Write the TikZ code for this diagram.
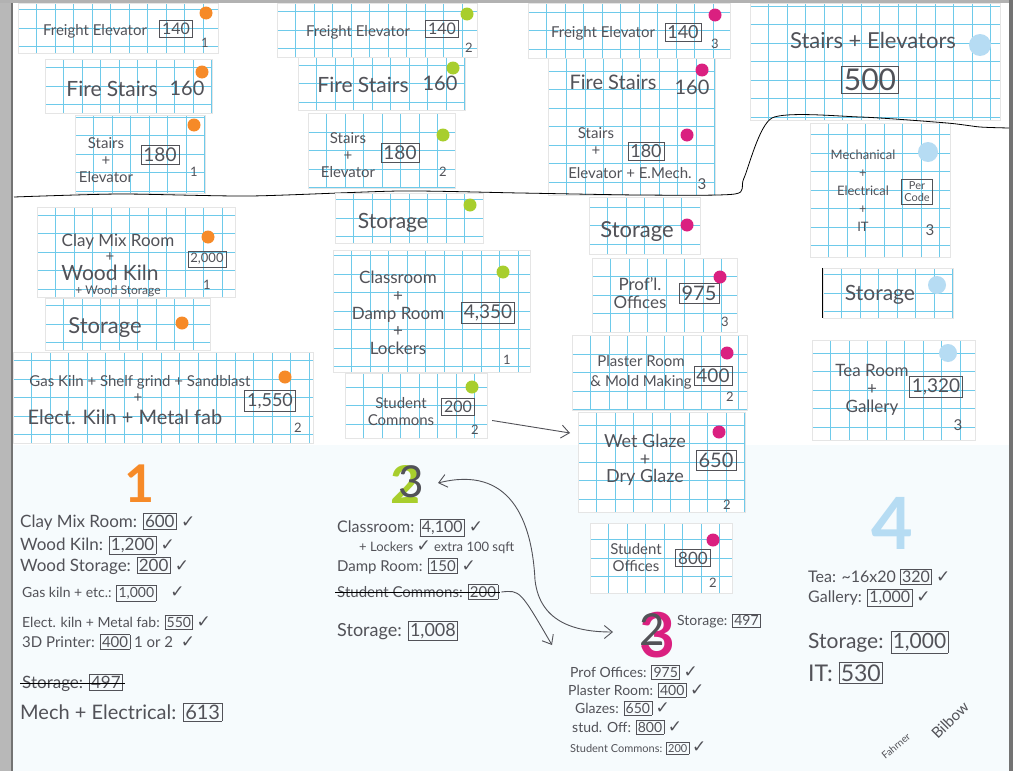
\documentclass[tikz,border=0pt]{standalone}
\usepackage{fontspec}
\setmainfont{Lato}
\newfontfamily\symfont{DejaVu Sans}
\usetikzlibrary{arrows.meta,fit}
\definecolor{pencil}{RGB}{82,82,88}
\definecolor{gridblue}{RGB}{110,202,234}
\definecolor{dotorange}{RGB}{246,138,40}
\definecolor{dotgreen}{RGB}{168,206,45}
\definecolor{dotpink}{RGB}{218,32,128}
\definecolor{dotblue}{RGB}{182,220,243}
\definecolor{showthrough}{RGB}{246,251,253}
\newcommand{\fs}[2]{\fontsize{#1}{#2}\selectfont}
\newcommand{\sq}[1]{\fbox{#1}}
\newcommand{\chk}{{\symfont\fontsize{17}{17}\selectfont ✓}}
\setlength{\fboxsep}{1.5pt}
\setlength{\fboxrule}{0.6pt}

\begin{document}
\begin{tikzpicture}[x=1pt,y=-1pt,
  sheet/.style={draw=black!10, fill=white, inner sep=0pt, line width=0.4pt,
    path picture={\draw[gridblue, line width=0.9pt] (path picture bounding box.south west) grid[step=18.5pt] (path picture bounding box.north east);}},
  pencil/.style={text=pencil, inner sep=1pt, align=center, font=\fs{15}{17}},
  area/.style={draw=pencil, text=pencil, inner sep=2.5pt, align=center, line width=0.6pt, font=\fs{16}{17}},
  tag/.style={text=pencil, inner sep=0pt, font=\fs{13}{13}},
  dot/.style={circle, inner sep=0pt, minimum size=13pt},
  bignum/.style={inner sep=0pt, font=\bfseries\fs{52}{52}},
  listline/.style={text=pencil, anchor=west, inner sep=0pt, font=\fs{17}{17}},
  sketcharrow/.style={draw=pencil, line width=0.9pt, -{Straight Barb[length=8pt,width=13pt]}},
]
\useasboundingbox (0,0) rectangle (1013,771);
% paper and scan edges
\fill[white] (0,0) rectangle (1013,771);
\fill[showthrough] (12,445) rectangle (1009,771);
\fill[black!28] (0,0) rectangle (12,771);
\draw[black!55, line width=1.2pt] (12,0) -- (12,771);
\fill[black!30] (0,0) rectangle (1013,2.5);
\fill[black!55] (1009,0) rectangle (1013,771);

% level 1: cores (orange)
\node[sheet, fit={(18,3)(218,53)}] (fe1) {};
\node[pencil] (fe1t) at (95,31) {Freight Elevator};
\node[area] (fe1a) at (176,29) {140};
\node[tag] (fe1n) at (205,43) {1};
\node[dot, fill=dotorange] (fe1d) at (206,13) {};
\node[sheet, fit={(45,59)(212,113)}] (fs1) {};
\node[pencil, font=\fs{21}{21}] (fs1t) at (112,89) {Fire Stairs};
\node[pencil, font=\fs{20}{21}] (fs1a) at (187,88) {160};
\node[dot, fill=dotorange] (fs1d) at (202,72) {};
\node[sheet, fit={(75,115)(205,193)}] (se1) {};
\node[pencil] (se1t) at (106,160) {Stairs\\+\\Elevator};
\node[area, font=\fs{19}{19}] (se1a) at (160,155) {180};
\node[tag] (se1n) at (194,172) {1};
\node[dot, fill=dotorange] (se1d) at (194,125) {};

% level 2: cores (green)
\node[sheet, fit={(277,3)(477,57)}] (fe2) {};
\node[pencil] (fe2t) at (358,32) {Freight Elevator};
\node[area] (fe2a) at (442,29) {140};
\node[tag] (fe2n) at (469,48) {2};
\node[dot, fill=dotgreen] (fe2d) at (467,14) {};
\node[sheet, fit={(298,57)(465,110)}] (fs2) {};
\node[pencil, font=\fs{21}{21}] (fs2t) at (363,85) {Fire Stairs};
\node[pencil, font=\fs{20}{21}] (fs2a) at (440,83) {160};
\node[dot, fill=dotgreen] (fs2d) at (453,68) {};
\node[sheet, fit={(308,113)(455,188)}] (se2) {};
\node[pencil] (se2t) at (348,155) {Stairs\\+\\Elevator};
\node[area, font=\fs{19}{19}] (se2a) at (400,153) {180};
\node[tag] (se2n) at (443,172) {2};
\node[dot, fill=dotgreen] (se2d) at (443,135) {};

% level 3: cores (pink)
\node[sheet, fit={(528,3)(730,58)}] (fe3) {};
\node[pencil] (fe3t) at (603,33) {Freight Elevator};
\node[area, font=\fs{18}{18}] (fe3a) at (683,32) {140};
\node[tag] (fe3n) at (715,44) {3};
\node[dot, fill=dotpink] (fe3d) at (715,15) {};
\node[sheet, fit={(548,58)(715,195)}] (fs3) {};
\node[pencil, font=\fs{20}{21}] (fs3t) at (613,82) {Fire Stairs};
\node[pencil, font=\fs{20}{21}] (fs3a) at (692,87) {160};
\node[dot, fill=dotpink] (fs3d) at (702,70) {};
\node[pencil] (se3t) at (596,142) {Stairs\\+};
\node[pencil] (se3u) at (630,173) {Elevator + E.Mech.};
\node[area, font=\fs{18}{18}] (se3a) at (646,151) {180};
\node[tag, font=\fs{15}{15}] (se3n) at (702,184) {3};
\node[dot, fill=dotpink] (se3d) at (687,135) {};

% level 4 (blue)
\node[sheet, fit={(750,3)(1000,120)}] (se4) {};
\node[pencil, font=\fs{22}{22}] (se4t) at (873,40) {Stairs + Elevators};
\node[area, font=\fs{30}{30}] (se4a) at (870,80) {500};
\node[dot, fill=dotblue, minimum size=22pt] (se4d) at (980,45) {};
\node[sheet, fit={(810,123)(950,257)}] (mei) {};
\node[pencil, font=\fs{13}{18}] (meit) at (863,191) {Mechanical\\+\\Electrical\\+\\IT};
\node[area, font=\fs{11}{12}] (meia) at (917,192) {Per\\Code};
\node[tag, font=\fs{15}{15}] (mein) at (930,230) {3};
\node[dot, fill=dotblue, minimum size=20pt] (meid) at (928,152) {};
\node[sheet, fit={(823,268)(953,318)}] (st4) {};
\draw[pencil, line width=0.7pt] (st4.north west) -- (st4.south west);
\node[pencil, font=\fs{21}{21}] (st4t) at (880,295) {Storage};
\node[dot, fill=dotblue, minimum size=18pt] (st4d) at (937,285) {};
\node[sheet, fit={(812,340)(975,440)}] (tea) {};
\node[pencil, font=\fs{17}{18}] (teat) at (872,390) {Tea Room\\+\\Gallery};
\node[area, font=\fs{19}{19}] (teaa) at (936,387) {1,320};
\node[tag, font=\fs{15}{15}] (tean) at (958,425) {3};
\node[dot, fill=dotblue, minimum size=18pt] (tead) at (948,353) {};

% floor divider
\draw[pencil, line width=0.8pt] plot[smooth, tension=0.4] coordinates {(14,197) (120,194) (250,196) (400,191) (520,193) (640,195) (735,194) (744,178) (772,118) (860,117) (947,123) (980,127) (1009,128)};

% level 1: studios (orange)
\node[sheet, fit={(37,207)(235,297)}] (cm1) {};
\node[pencil, font=\fs{17}{17}] (cm1t) at (118,242) {Clay Mix Room};
\node[pencil] (cm1p) at (110,257) {+};
\node[pencil, font=\fs{21}{21}] (cm1u) at (110,273) {Wood Kiln};
\node[pencil, font=\fs{12}{12}] (cm1v) at (118,291) {+ Wood Storage};
\node[area, font=\fs{13}{13}] (cm1a) at (207,259) {2,000};
\node[tag] (cm1n) at (207,285) {1};
\node[dot, fill=dotorange] (cm1d) at (208,237) {};
\node[sheet, fit={(45,298)(210,350)}] (st1) {};
\node[pencil, font=\fs{22}{22}] (st1t) at (105,328) {Storage};
\node[dot, fill=dotorange] (st1d) at (182,323) {};
\node[sheet, fit={(13,352)(313,443)}] (gk1) {};
\node[pencil] (gk1t) at (140,382) {Gas Kiln + Shelf grind + Sandblast};
\node[pencil] (gk1p) at (138,398) {+};
\node[pencil, font=\fs{20}{20}] (gk1u) at (125,417) {Elect. Kiln + Metal fab};
\node[area, font=\fs{18}{18}] (gk1a) at (270,401) {1,550};
\node[tag] (gk1n) at (298,428) {2};
\node[dot, fill=dotorange] (gk1d) at (285,377) {};

% level 2: studios (green)
\node[sheet, fit={(335,193)(483,243)}] (st2) {};
\node[pencil, font=\fs{21}{21}] (st2t) at (393,223) {Storage};
\node[dot, fill=dotgreen] (st2d) at (470,205) {};
\node[sheet, fit={(333,250)(530,372)}] (cr2) {};
\node[pencil, font=\fs{17}{17.8}] (cr2t) at (398,313) {Classroom\\+\\Damp Room\\+\\Lockers};
\node[area, font=\fs{19}{19}] (cr2a) at (488,313) {4,350};
\node[tag] (cr2n) at (507,360) {1};
\node[dot, fill=dotgreen] (cr2d) at (503,272) {};
\node[sheet, fit={(345,373)(487,438)}] (sc2) {};
\node[pencil] (sc2t) at (401,412) {Student\\Commons};
\node[area] (sc2a) at (458,407) {200};
\node[tag] (sc2n) at (475,430) {2};
\node[dot, fill=dotgreen] (sc2d) at (472,387) {};
\coordinate (sc2aim) at (570,433);
\draw[sketcharrow] ([xshift=5pt,yshift=-15pt]sc2.east) -- (sc2aim);

% level 3: studios (pink)
\node[sheet, fit={(589,197)(700,254)}] (st3) {};
\node[pencil, font=\fs{22}{22}] (st3t) at (637,232) {Storage};
\node[dot, fill=dotpink] (st3d) at (687,225) {};
\node[sheet, fit={(592,258)(737,332)}] (po3) {};
\node[pencil, font=\fs{17}{18}] (po3t) at (640,293) {Prof'l.\\Offices};
\node[area, font=\fs{20}{20}] (po3a) at (699,293) {975};
\node[tag] (po3n) at (725,322) {3};
\node[dot, fill=dotpink] (po3d) at (720,277) {};
\node[sheet, fit={(572,335)(747,410)}] (pl3) {};
\node[pencil, font=\fs{15}{20}] (pl3t) at (641,372) {Plaster Room\\\& Mold Making};
\node[area, font=\fs{19}{19}] (pl3a) at (713,376) {400};
\node[tag] (pl3n) at (730,397) {2};
\node[dot, fill=dotpink] (pl3d) at (727,353) {};
\node[sheet, fit={(578,412)(745,512)}] (wg3) {};
\node[pencil, font=\fs{18}{17.5}] (wg3t) at (645,460) {Wet Glaze\\+\\Dry Glaze};
\node[area, font=\fs{20}{20}] (wg3a) at (716,460) {650};
\node[tag] (wg3n) at (727,505) {2};
\node[dot, fill=dotpink] (wg3d) at (719,432) {};
\node[sheet, fit={(590,523)(732,593)}] (so3) {};
\node[pencil] (so3t) at (636,558) {Student\\Offices};
\node[area, font=\fs{17}{17}] (so3a) at (693,558) {800};
\node[tag] (so3n) at (713,583) {2};
\node[dot, fill=dotpink] (so3d) at (713,540) {};

% tallies per level
\node[bignum, text=dotorange] (g1) at (140,484) {1};
\node[listline] (g1a) at (20,522) {Clay Mix Room: \sq{600}\ \chk};
\node[listline] (g1b) at (20,545) {Wood Kiln: \sq{1,200}\ \chk};
\node[listline] (g1c) at (20,566) {Wood Storage: \sq{200}\ \chk};
\node[listline, font=\fs{14}{14}] (g1d) at (22,593) {Gas kiln + etc.: \sq{1,000}\quad\chk};
\node[listline, font=\fs{14}{14}] (g1e) at (22,622) {Elect. kiln + Metal fab: \sq{550}\ \chk};
\node[listline, font=\fs{15}{15}] (g1f) at (22,642) {3D Printer: \sq{400}\ 1 or 2\ \ \chk};
\node[listline] (g1g) at (22,683) {Storage: \sq{497}};
\draw[pencil, line width=0.8pt] ([xshift=-2pt]g1g.west) -- ([xshift=2pt]g1g.east);
\node[listline, font=\fs{20}{20}] (g1h) at (20,712) {Mech + Electrical: \sq{613}};

\node[bignum, text=dotgreen] (g2) at (406,484) {2};
\node[inner sep=0pt, text=pencil, font=\fs{44}{44}] (g2x) at (411,482) {3};
\node[listline, font=\fs{16}{16}] (g2a) at (337,528) {Classroom: \sq{4,100}\ \chk};
\node[listline, font=\fs{13}{13}] (g2b) at (359,547) {+ Lockers \chk\ extra 100 sqft};
\node[listline, font=\fs{15}{15}] (g2c) at (337,566) {Damp Room: \sq{150}\ \chk};
\node[listline, font=\fs{15}{15}] (g2d) at (337,592) {Student Commons: \sq{200}};
\draw[pencil, line width=0.8pt] ([xshift=-2pt]g2d.west) -- ([xshift=2pt]g2d.east);
\node[listline, font=\fs{18}{18}] (g2e) at (337,631) {Storage: \sq{1,008}};

\node[bignum, text=dotpink, font=\bfseries\fs{62}{62}] (g3) at (657,635) {3};
\node[inner sep=0pt, text=pencil, font=\fs{44}{44}] (g3x) at (652,630) {2};
\node[listline, font=\fs{14}{14}] (g3a) at (677,621) {Storage: \sq{497}};
\node[listline, font=\fs{14}{14}] (g3b) at (570,672) {Prof Offices: \sq{975}\ \chk};
\node[listline, font=\fs{14}{14}] (g3c) at (568,690) {Plaster Room: \sq{400}\ \chk};
\node[listline, font=\fs{14}{14}] (g3d) at (575,708) {Glazes: \sq{650}\ \chk};
\node[listline, font=\fs{14}{14}] (g3e) at (572,727) {stud. Off: \sq{800}\ \chk};
\node[listline, font=\fs{11}{11}] (g3f) at (570,748) {Student Commons: \sq{200}\ \chk};

\node[bignum, text=dotblue, font=\bfseries\fs{72}{72}] (g4) at (892,523) {4};
\node[listline, font=\fs{16}{16}] (g4a) at (808,577) {Tea: \textasciitilde16x20 \sq{320}\ \chk};
\node[listline, font=\fs{16}{16}] (g4b) at (808,598) {Gallery: \sq{1,000}\ \chk};
\node[listline, font=\fs{21}{21}] (g4c) at (808,642) {Storage: \sq{1,000}};
\node[listline, font=\fs{23}{23}] (g4d) at (808,673) {IT: \sq{530}};
\node[text=pencil, rotate=40, inner sep=0pt, font=\fs{10}{10}] (sig1) at (896,746) {Fahrner};
\node[text=pencil, rotate=45, inner sep=0pt, font=\fs{15}{15}] (sig2) at (950,720) {Bilbow};

% moves between levels
\coordinate (tip2) at (438,483);
\coordinate (tip3) at (613,632);
\draw[sketcharrow, {Straight Barb[length=8pt,width=13pt]}-{Straight Barb[length=8pt,width=13pt]}] (tip2) .. controls (510,465) and (532,520) .. (535,580) .. controls (540,625) and (580,632) .. (tip3);
\coordinate (g2aim) at (552,645);
\draw[sketcharrow] ([xshift=3pt]g2d.east) .. controls (520,590) .. (g2aim);
\end{tikzpicture}
\end{document}
